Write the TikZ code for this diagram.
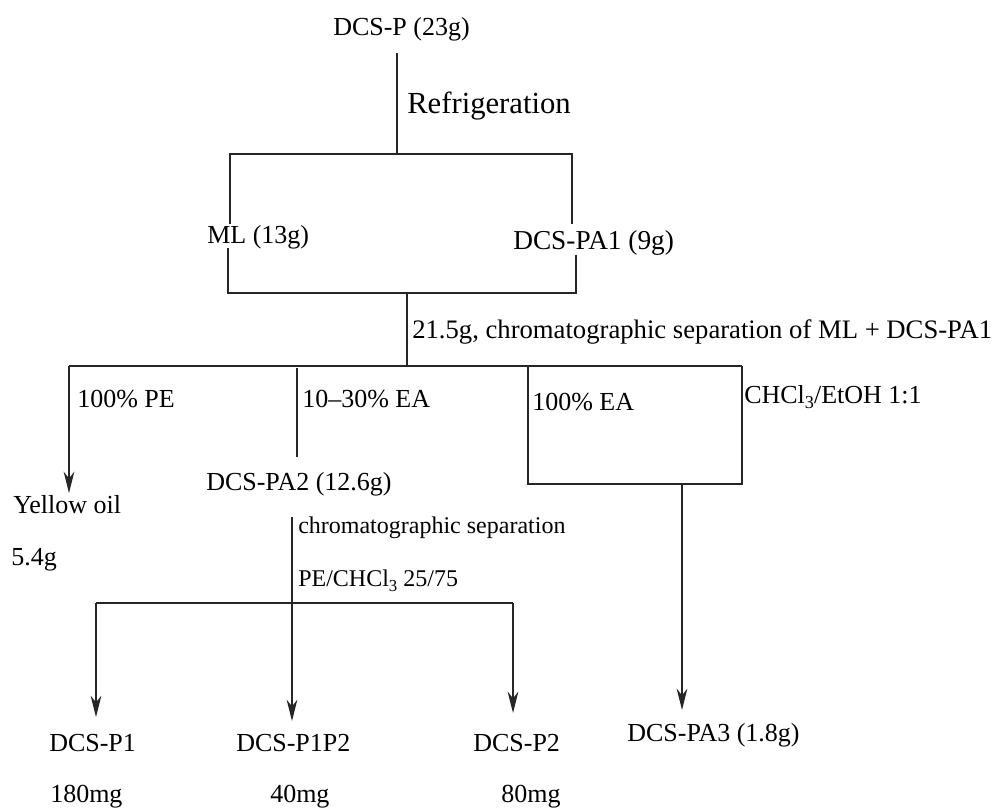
\documentclass[tikz,border=0pt]{standalone}
\usepackage{fontspec}
\setmainfont{Liberation Serif}
\usetikzlibrary{arrows.meta}
\newcommand{\subthree}{\raisebox{-0.45ex}{\scalebox{0.7}{3}}}
\tikzset{
  lbl/.style={anchor=west, inner sep=0pt, font=\fontsize{19.5pt}{22pt}\selectfont},
  lblbig/.style={lbl, font=\fontsize{23pt}{26pt}\selectfont},
  lblsmall/.style={lbl, font=\fontsize{18pt}{20pt}\selectfont},
  ln/.style={draw=black!85, line width=1pt},
  arr/.style={ln, -{Stealth[length=16pt, width=8pt, inset=5pt]}}
}
\begin{document}
\begin{tikzpicture}[x=0.75pt, y=-0.75pt]
\path[use as bounding box, fill=white] (0,0) rectangle (1002,808);

% text nodes
\node[lbl] (dcsp) at (333,29) {DCS-P (23g)};
\node[lblbig] (refr) at (407,106) {Refrigeration};
\node[lbl] (ml) at (207,237) {ML (13g)};
\node[lbl, font=\fontsize{20.5pt}{23pt}\selectfont] (pa1) at (513,243) {DCS-PA1 (9g)};
\node[lbl, font=\fontsize{20pt}{23pt}\selectfont] (sep1) at (412,332) {21.5g, chromatographic separation of ML + DCS-PA1};
\node[lbl] (pe) at (77,399) {100\% PE};
\node[lbl] (ea1) at (302,399) {10--30\% EA};
\node[lbl] (ea2) at (532,402) {100\% EA};
\node[lbl] (chcl) at (744,397) {CHCl\subthree/EtOH 1:1};
\node[lbl] (yo) at (13,505) {Yellow oil};
\node[lbl] (w54) at (11,560) {5.4g};
\node[lbl] (pa2) at (206,484) {DCS-PA2 (12.6g)};
\node[lblsmall] (sep2) at (298,528) {chromatographic separation};
\node[lblsmall] (pechcl) at (298,581) {PE/CHCl\subthree{} 25/75};
\node[lbl] (p1) at (49,743) {DCS-P1};
\node[lbl] (p1p2) at (236,743) {DCS-P1P2};
\node[lbl] (p2) at (473,743) {DCS-P2};
\node[lbl] (pa3) at (627,735) {DCS-PA3 (1.8g)};
\node[lbl] (m180) at (50,797) {180mg};
\node[lbl] (m40) at (270,797) {40mg};
\node[lbl] (m80) at (501,797) {80mg};

% junction coordinates
\coordinate (a0) at (397,53);
\coordinate (a1) at (397,154);
\coordinate (aL) at (230,154);
\coordinate (aR) at (572,154);
\coordinate (mlT) at (230,224);
\coordinate (paT) at (572,224);
\coordinate (mlB) at (228,248);
\coordinate (mlJ) at (228,293);
\coordinate (paB) at (576,255);
\coordinate (paJ) at (576,293);
\coordinate (b0) at (407,293);
\coordinate (b1) at (407,366);
\coordinate (hL) at (69,366);
\coordinate (hR) at (742,366);
\coordinate (yoT) at (69,493);
\coordinate (v2a) at (297,368);
\coordinate (v2b) at (297,457);
\coordinate (bxL) at (528,366);
\coordinate (bxLB) at (528,484);
\coordinate (bxRB) at (742,484);
\coordinate (c0) at (682,484);
\coordinate (c1) at (682,710);
\coordinate (d0) at (292,517);
\coordinate (d1) at (292,721);
\coordinate (eL) at (96,603);
\coordinate (eR) at (513,603);
\coordinate (eLt) at (96,717);
\coordinate (eRt) at (513,713);

% connectors
\draw[ln] (a0) -- (a1);
\draw[ln] (mlT) -- (aL) -- (aR) -- (paT);
\draw[ln] (mlB) -- (mlJ) -- (paJ) -- (paB);
\draw[ln] (b0) -- (b1);
\draw[ln] (hL) -- (hR);
\draw[arr] (hL) -- (yoT);
\draw[ln] (v2a) -- (v2b);
\draw[ln] (bxL) -- (bxLB) -- (bxRB) -- (hR);
\draw[arr] (c0) -- (c1);
\draw[arr] (d0) -- (d1);
\draw[ln] (eL) -- (eR);
\draw[arr] (eL) -- (eLt);
\draw[arr] (eR) -- (eRt);
\end{tikzpicture}
\end{document}
